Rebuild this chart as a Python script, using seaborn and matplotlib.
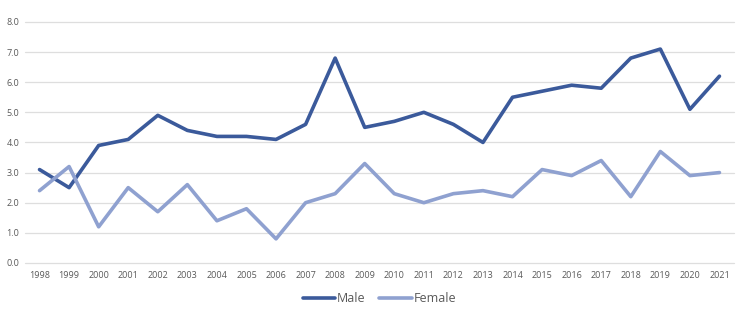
import pandas as pd
import matplotlib.pyplot as plt
import seaborn as sns

# Data
years = [str(y) for y in range(1998, 2022)]
male = [3.1, 2.5, 3.9, 4.1, 4.9, 4.4, 4.2, 4.2, 4.1, 4.6, 6.8, 4.5,
        4.7, 5.0, 4.6, 4.0, 5.5, 5.7, 5.9, 5.8, 6.8, 7.1, 5.1, 6.2]
female = [2.4, 3.2, 1.2, 2.5, 1.7, 2.6, 1.4, 1.8, 0.8, 2.0, 2.3, 3.3,
          2.3, 2.0, 2.3, 2.4, 2.2, 3.1, 2.9, 3.4, 2.2, 3.7, 2.9, 3.0]
yticks = [0, 1, 2, 3, 4, 5, 6, 7, 8]

df = pd.DataFrame({"Year": years * 2,
                   "Value": male + female,
                   "Sex": ["Male"] * len(years) + ["Female"] * len(years)})
df["x"] = list(range(len(years))) * 2

sns.set_style("white")
plt.rcParams["font.family"] = ["Open Sans", "DejaVu Sans"]

fig = plt.figure(figsize=(7.5, 3.09), dpi=100)
ax = fig.add_axes([0.033, 0.149, 0.946, 0.78])

sns.lineplot(data=df, x="x", y="Value", hue="Sex",
             palette={"Male": "#3b5a9b", "Female": "#8fa1d0"},
             linewidth=2.6, ax=ax, legend=True)

ax.set_xlim(-0.5, len(years) - 0.5)
ax.set_ylim(0, 8)
ax.set_xticks(range(len(years)))
ax.set_xticklabels(years)
ax.set_yticks(yticks)
ax.set_yticklabels([f"{v:.1f}" for v in yticks])
ax.yaxis.grid(True, color="#dedede", linewidth=0.9)
for gl in ax.get_ygridlines():
    gl.set_clip_on(False)
ax.tick_params(axis="both", length=0, labelsize=6.5, labelcolor="#595959", pad=6)
ax.tick_params(axis="y", pad=4)
ax.set_xlabel("")
ax.set_ylabel("")
sns.despine(ax=ax, left=True, bottom=True)

ax.legend(title=None, loc="upper center", bbox_to_anchor=(0.5, -0.075), ncol=2,
          frameon=False, fontsize=9, handlelength=2.6, handletextpad=0.15,
          columnspacing=1.1, labelcolor="#595959")

plt.savefig("out.png", dpi=100)
